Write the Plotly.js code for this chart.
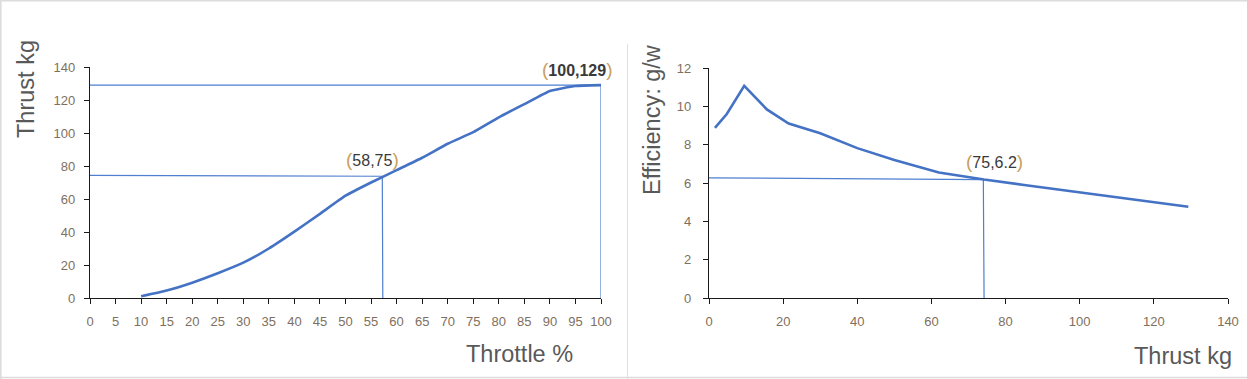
<!DOCTYPE html>
<html>
<head>
<meta charset="utf-8">
<script src="https://cdn.plot.ly/plotly-3.0.1.min.js"></script>
<style>html,body{margin:0;padding:0;background:#fff;}#chart{width:1247px;height:379px;}</style>
</head>
<body>
<div id="chart"></div>
<script>
// Left chart: throttle % vs thrust kg
const throttle = [10, 15, 20, 25, 30, 35, 40, 45, 50, 55, 60, 65, 70, 75, 80, 85, 90, 95, 100];
const thrust   = [1, 4.5, 9.3, 15, 21.4, 30, 40.2, 51, 62, 70, 77.5, 85, 93.5, 100.5, 109.5, 117.5, 125.5, 128.5, 129];
// guide lines (left)
const guideMaxX = [0, 100, 100];
const guideMaxY = [129, 129, 0];
const guideMidX = [0, 57.2, 57.3];
const guideMidY = [74.3, 73.8, 0];
const leftXTicks = [0,5,10,15,20,25,30,35,40,45,50,55,60,65,70,75,80,85,90,95,100];
const leftYTicks = [0,20,40,60,80,100,120,140];

// Right chart: thrust kg vs efficiency g/w
const thrustR    = [1.6, 4.8, 9.5, 15.6, 21.5, 30, 40, 50, 62, 74.2, 85, 100, 110, 120, 129.3];
const efficiency = [8.88, 9.6, 11.07, 9.84, 9.1, 8.6, 7.82, 7.2, 6.55, 6.18, 5.9, 5.51, 5.27, 4.99, 4.76];
const guideRX = [0, 74.0, 74.2];
const guideRY = [6.27, 6.18, 0];
const rightXTicks = [0,20,40,60,80,100,120,140];
const rightYTicks = [0,2,4,6,8,10,12];

const W = 1247, H = 379;
const px = v => v / W;
const py = v => 1 - v / H;

const lineBlue = '#4472C4';
const guideBlue = '#4F7FD0';
const tickColor = '#806f5e';

const traces = [
  {x: guideMaxX, y: guideMaxY, xaxis:'x', yaxis:'y', mode:'lines', line:{color:guideBlue, width:1.2}, hoverinfo:'skip'},
  {x: guideMidX, y: guideMidY, xaxis:'x', yaxis:'y', mode:'lines', line:{color:guideBlue, width:1.2}, hoverinfo:'skip'},
  {x: throttle, y: thrust, xaxis:'x', yaxis:'y', mode:'lines', line:{color:lineBlue, width:2.6, shape:'spline', smoothing:0.4}},
  {x: guideRX, y: guideRY, xaxis:'x2', yaxis:'y2', mode:'lines', line:{color:guideBlue, width:1.2}, hoverinfo:'skip'},
  {x: thrustR, y: efficiency, xaxis:'x2', yaxis:'y2', mode:'lines', line:{color:lineBlue, width:2.6}}
];

const axisCommon = {
  showgrid:false, zeroline:false, showline:true, linecolor:'#1a1a1a', linewidth:1.2,
  ticks:'outside', ticklen:5, tickwidth:1, tickcolor:'#1a1a1a',
  tickfont:{family:'Liberation Sans, Arial, sans-serif', size:13, color:tickColor},
  fixedrange:true
};

const annFont = {family:'Liberation Sans, Arial, sans-serif', size:16, color:'#3a3a3a'};
const par = s => '<span style="color:#c8a060;font-size:19px">' + s + '</span>';
const titleFont = {family:'Liberation Sans, Arial, sans-serif', size:23.5, color:'#595959'};

const layout = {
  width: W, height: H,
  margin:{l:0, r:0, t:0, b:0},
  paper_bgcolor:'#fff', plot_bgcolor:'rgba(0,0,0,0)',
  showlegend:false,
  xaxis: Object.assign({}, axisCommon, {domain:[px(90), px(601)], range:[0,100], tickvals:leftXTicks, ticktext:leftXTicks.map(String), anchor:'y', ticklabelstandoff:6}),
  yaxis: Object.assign({}, axisCommon, {domain:[py(298), py(67)], range:[0,140], tickvals:leftYTicks, ticktext:leftYTicks.map(String), anchor:'x', ticklabelstandoff:6}),
  xaxis2: Object.assign({}, axisCommon, {domain:[px(709), px(1228)], range:[0,140], tickvals:rightXTicks, ticktext:rightXTicks.map(String), anchor:'y2', ticklabelstandoff:6}),
  yaxis2: Object.assign({}, axisCommon, {domain:[py(298), py(68)], range:[0,12], tickvals:rightYTicks, ticktext:rightYTicks.map(String), anchor:'x2', ticklabelstandoff:9}),
  annotations: [
    {xref:'paper', yref:'paper', x:px(372), y:py(160), text: par('(') + '58,75' + par(')'), showarrow:false, font:annFont, xanchor:'center', yanchor:'middle'},
    {xref:'paper', yref:'paper', x:px(577), y:py(69), text: par('(') + '<b>100,129</b>' + par(')'), showarrow:false, font:annFont, xanchor:'center', yanchor:'middle'},
    {xref:'paper', yref:'paper', x:px(994), y:py(161), text: par('(') + '75,6.2' + par(')'), showarrow:false, font:annFont, xanchor:'center', yanchor:'middle'},
    {xref:'paper', yref:'paper', x:px(26), y:py(89), text:'Thrust kg', textangle:-90, showarrow:false, font:titleFont, xanchor:'center', yanchor:'middle'},
    {xref:'paper', yref:'paper', x:px(519), y:py(354), text:'Throttle %', showarrow:false, font:titleFont, xanchor:'center', yanchor:'middle'},
    {xref:'paper', yref:'paper', x:px(652), y:py(120), text:'Efficiency: g/w', textangle:-90, showarrow:false, font:titleFont, xanchor:'center', yanchor:'middle'},
    {xref:'paper', yref:'paper', x:px(1183), y:py(356), text:'Thrust kg', showarrow:false, font:titleFont, xanchor:'center', yanchor:'middle'}
  ],
  shapes: [
    {type:'line', xref:'paper', yref:'paper', x0:0, x1:1, y0:py(0.8), y1:py(0.8), line:{color:'#dcdcdc', width:1.6}},
    {type:'line', xref:'paper', yref:'paper', x0:px(0.8), x1:px(0.8), y0:0, y1:1, line:{color:'#dcdcdc', width:1.6}},
    {type:'line', xref:'paper', yref:'paper', x0:0, x1:1, y0:py(377.5), y1:py(377.5), line:{color:'#dcdcdc', width:1.6}},
    {type:'line', xref:'paper', yref:'paper', x0:px(627.5), x1:px(627.5), y0:py(379), y1:py(44), line:{color:'#e0e0e0', width:1}}
  ]
};

Plotly.newPlot('chart', traces, layout, {staticPlot:true, displayModeBar:false});
</script>
</body>
</html>
